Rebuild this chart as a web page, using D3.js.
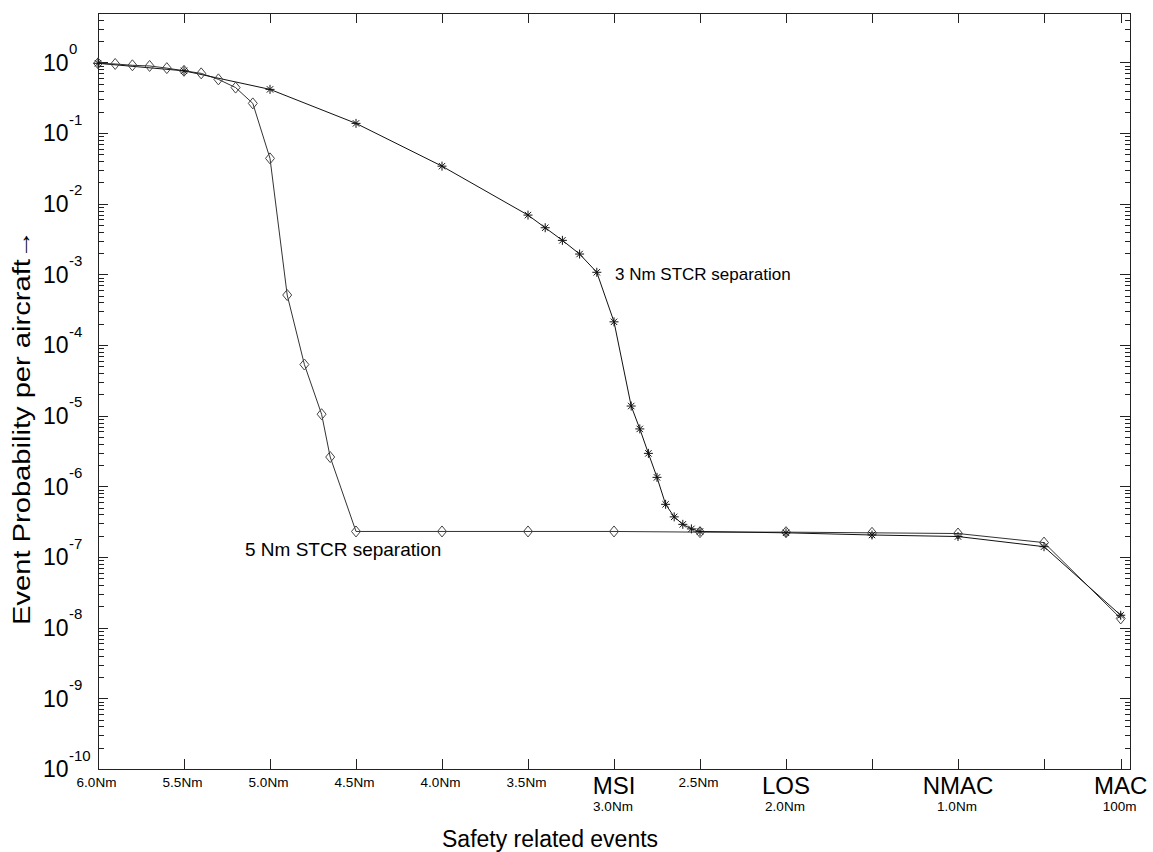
<!DOCTYPE html>
<html>
<head>
<meta charset="utf-8">
<script src="https://cdn.jsdelivr.net/npm/d3@7/dist/d3.min.js"></script>
<style>
  html, body { margin: 0; padding: 0; background: #fff; }
  svg { display: block; font-family: "Liberation Sans", Arial, sans-serif; }
</style>
</head>
<body>
<svg id="chart" width="1153" height="852"></svg>
<script>
// Separation distances (Nm); 100 m is about 0.054 Nm
const sep5Nm = [6.0, 5.9, 5.8, 5.7, 5.6, 5.5, 5.4, 5.3, 5.2, 5.1, 5.0, 4.9, 4.8, 4.7, 4.65, 4.5, 4.0, 3.5, 3.0, 2.5, 2.0, 1.5, 1.0, 0.5, 0.054];
const prob5Nm = [0.97, 0.95, 0.91, 0.89, 0.83, 0.76, 0.70, 0.575, 0.44, 0.263, 0.0438, 5.1e-4, 5.3e-5, 1.05e-5, 2.6e-6, 2.3e-7, 2.3e-7, 2.3e-7, 2.3e-7, 2.25e-7, 2.25e-7, 2.2e-7, 2.15e-7, 1.6e-7, 1.35e-8];

const sep3Nm = [6.0, 5.5, 5.0, 4.5, 4.0, 3.5, 3.4, 3.3, 3.2, 3.1, 3.0, 2.9, 2.85, 2.8, 2.75, 2.7, 2.65, 2.6, 2.55, 2.5, 2.0, 1.5, 1.0, 0.5, 0.054];
const prob3Nm = [0.97, 0.76, 0.415, 0.137, 0.034, 6.9e-3, 4.57e-3, 3.03e-3, 1.94e-3, 1.07e-3, 2.13e-4, 1.37e-5, 6.5e-6, 2.93e-6, 1.34e-6, 5.57e-7, 3.7e-7, 2.9e-7, 2.5e-7, 2.3e-7, 2.2e-7, 2.05e-7, 1.95e-7, 1.4e-7, 1.5e-8];

// X axis ticks and their labels
const xTicks = [6.0, 5.5, 5.0, 4.5, 4.0, 3.5, 3.0, 2.5, 2.0, 1.5, 1.0, 0.5, 0.054];
const xTickText = ["6.0Nm", "5.5Nm", "5.0Nm", "4.5Nm", "4.0Nm", "3.5Nm", "3.0Nm", "2.5Nm", "2.0Nm", "", "1.0Nm", "", "100m"];
const xEventText = ["", "", "", "", "", "", "MSI", "", "LOS", "", "NMAC", "", "MAC"];

// Y axis decades
const yExponents = [0, -1, -2, -3, -4, -5, -6, -7, -8, -9, -10];

const svg = d3.select("#chart");
const L = 98, R = 1130, T = 13, B = 769;

const x = d3.scaleLinear().domain([6, 0]).range([L, R]);
const y = d3.scaleLog().domain([1e-10, 5]).range([B, T]);

const majorY = yExponents.map(e => Math.pow(10, e));
const minorY = [];
for (let e = -10; e <= 0; e++) {
  for (let k = 2; k <= 9; k++) {
    const v = k * Math.pow(10, e);
    if (v <= 5) minorY.push(v);
  }
}

const axisColor = "#222";

function styleAxis(g) {
  g.select(".domain").remove();
  g.selectAll(".tick line").attr("stroke", axisColor).attr("shape-rendering", "crispEdges");
  g.selectAll(".tick text").remove();
}

// Y axes (left and right), ticks pointing inward
svg.append("g").attr("transform", `translate(${L},0)`)
  .call(d3.axisLeft(y).tickValues(majorY).tickSize(-10).tickFormat(""))
  .call(styleAxis);
svg.append("g").attr("transform", `translate(${L},0)`)
  .call(d3.axisLeft(y).tickValues(minorY).tickSize(-5.5).tickFormat(""))
  .call(styleAxis);
svg.append("g").attr("transform", `translate(${R},0)`)
  .call(d3.axisRight(y).tickValues(majorY).tickSize(-10).tickFormat(""))
  .call(styleAxis);
svg.append("g").attr("transform", `translate(${R},0)`)
  .call(d3.axisRight(y).tickValues(minorY).tickSize(-5.5).tickFormat(""))
  .call(styleAxis);

// X axes (bottom and top)
svg.append("g").attr("transform", `translate(0,${B})`)
  .call(d3.axisBottom(x).tickValues(xTicks).tickSize(-10).tickFormat(""))
  .call(styleAxis);
svg.append("g").attr("transform", `translate(0,${T})`)
  .call(d3.axisTop(x).tickValues(xTicks).tickSize(-10).tickFormat(""))
  .call(styleAxis);

// Plot frame
svg.append("rect")
  .attr("x", L + 0.5).attr("y", T + 0.5)
  .attr("width", R - L).attr("height", B - T)
  .attr("fill", "none").attr("stroke", axisColor)
  .attr("shape-rendering", "crispEdges");

// Y tick labels: 10 with a superscript exponent
const yLab = svg.append("g").attr("fill", "#000");
yExponents.forEach(e => {
  const ty = y(Math.pow(10, e));
  yLab.append("text").attr("x", 43).attr("y", ty + 8.4)
    .attr("font-size", 23).text("10");
  yLab.append("text").attr("x", 69).attr("y", ty - 8.3)
    .attr("font-size", 15).text(String(e));
});

// X tick labels; event names sit above their distance
const xLab = svg.append("g").attr("fill", "#000").attr("text-anchor", "middle");
xTicks.forEach((v, i) => {
  const tx = x(v);
  if (xEventText[i]) {
    xLab.append("text").attr("x", tx).attr("y", 794)
      .attr("font-size", 24).text(xEventText[i]);
    xLab.append("text").attr("x", tx - 1).attr("y", 811)
      .attr("font-size", 13.5).text(xTickText[i]);
  } else if (xTickText[i]) {
    xLab.append("text").attr("x", tx - 1.5).attr("y", 787)
      .attr("font-size", 13.5).text(xTickText[i]);
  }
});

// Axis titles
svg.append("text").attr("x", 442).attr("y", 847)
  .attr("font-size", 23).attr("fill", "#000")
  .text("Safety related events");
svg.append("text")
  .attr("transform", `translate(30,230) rotate(-90)`)
  .attr("text-anchor", "end")
  .attr("font-size", 23).attr("fill", "#000")
  .attr("textLength", 395).attr("lengthAdjust", "spacingAndGlyphs")
  .text("Event Probability per aircraft\u2192");

// Series
const data5 = sep5Nm.map((d, i) => ({ nm: d, p: prob5Nm[i] }));
const data3 = sep3Nm.map((d, i) => ({ nm: d, p: prob3Nm[i] }));
const line = d3.line().x(d => x(d.nm)).y(d => y(d.p));

svg.append("path").datum(data5)
  .attr("d", line).attr("fill", "none")
  .attr("stroke", "#333").attr("stroke-width", 1);
svg.append("path").datum(data3)
  .attr("d", line).attr("fill", "none")
  .attr("stroke", "#111").attr("stroke-width", 1);

// Diamond markers
svg.append("g").selectAll("path").data(data5).join("path")
  .attr("transform", d => `translate(${x(d.nm)},${y(d.p)})`)
  .attr("d", "M0,-5.5L4.5,0L0,5.5L-4.5,0Z")
  .attr("fill", "none").attr("stroke", "#444").attr("stroke-width", 1);

// Asterisk markers
svg.append("g").selectAll("path").data(data3).join("path")
  .attr("transform", d => `translate(${x(d.nm)},${y(d.p)})`)
  .attr("d", "M-4.5,0H4.5M0,-4.5V4.5M-3.2,-3.2L3.2,3.2M-3.2,3.2L3.2,-3.2")
  .attr("fill", "none").attr("stroke", "#111").attr("stroke-width", 1);

// Series annotations
svg.append("text").attr("x", 615).attr("y", 280)
  .attr("font-size", 17).attr("fill", "#000")
  .text("3 Nm STCR separation");
svg.append("text").attr("x", 245).attr("y", 556)
  .attr("font-size", 19).attr("fill", "#000")
  .text("5 Nm STCR separation");
</script>
</body>
</html>
